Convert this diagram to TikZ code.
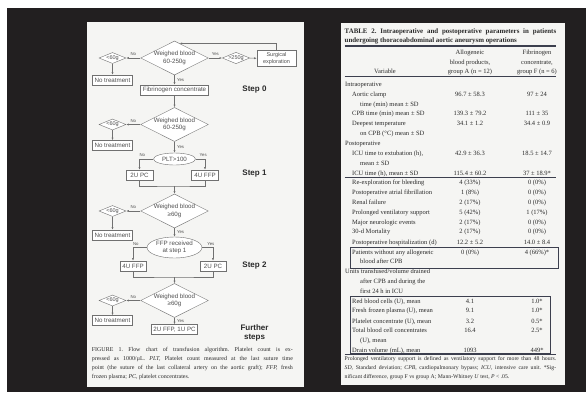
\documentclass[tikz,border=0pt]{standalone}
\usepackage{fontspec}
\setmainfont{Liberation Serif}
\setsansfont{Liberation Sans}
\usepackage{tikz}
\usetikzlibrary{arrows.meta,calc,shapes.geometric}
\frenchspacing

\definecolor{bgdark}{HTML}{221F20}
\definecolor{paper}{HTML}{F5F5F3}
\definecolor{flowline}{HTML}{707070}
\definecolor{flowtext}{HTML}{505050}
\definecolor{tabtext}{HTML}{2A2A2A}
\definecolor{tabline}{HTML}{3C3F4E}

\newcommand{\flowfont}{\sffamily\fontsize{6.2}{7.4}\selectfont}
\newcommand{\smallflow}{\sffamily\fontsize{5.5}{6.4}\selectfont}
\newcommand{\ynfont}{\sffamily\fontsize{4.3}{5}\selectfont}
\newcommand{\stepfont}{\sffamily\bfseries\fontsize{8}{9.2}\selectfont}
\newcommand{\tabfont}{\rmfamily\fontsize{6.5}{9.6}\selectfont}
\newcommand{\titlefont}{\rmfamily\bfseries\fontsize{6.9}{9}\selectfont}
\newcommand{\capfont}{\rmfamily\fontsize{5.95}{9.15}\selectfont}
\newcommand{\footfont}{\rmfamily\fontsize{5.75}{9.2}\selectfont}

\begin{document}
\begin{tikzpicture}[x=1pt,y=-1pt,
  every node/.style={inner sep=0pt},
  box/.style={draw=flowline,fill=white,font=\flowfont,text=flowtext,inner xsep=1.5pt,minimum height=10pt},
  test/.style={diamond,aspect=2,draw=flowline,fill=white,font=\flowfont,text=flowtext,align=center,minimum width=66pt,minimum height=34pt},
  limit/.style={diamond,aspect=2.4,draw=flowline,fill=white,font=\smallflow,text=flowtext,minimum width=27pt,minimum height=11pt},
  query/.style={ellipse,draw=flowline,fill=white,font=\flowfont,text=flowtext,align=center},
  yn/.style={font=\ynfont,text=flowtext,inner sep=0.8pt},
  flow/.style={draw=flowline,line width=0.5pt,-{Latex[length=2.6pt,width=2pt]}},
  tie/.style={draw=flowline,line width=0.5pt},
  steplabel/.style={font=\stepfont,text=tabtext,align=center},
  cell/.style={font=\tabfont,text=tabtext,anchor=base west},
  num/.style={font=\tabfont,text=tabtext,anchor=base}]
\useasboundingbox (0,0) rectangle (586,392);
\fill[white] (0,0) rectangle (586,392);
\fill[bgdark] (7,7.5) rectangle (586,392);
\fill[paper] (87,22) rectangle (304,387);
\fill[paper] (340.7,22.5) rectangle (565,385);

% Step 0
\node[test] (w0) at (174.5,58) {Weighed blood\\60-250g};
\node[limit] (lo0) at (112.5,58) {<60g};
\node[limit] (hi0) at (236,58) {>250g};
\node[box,minimum width=39pt,minimum height=16pt,align=center,font=\smallflow] (surg) at (276.5,58.5) {Surgical\\exploration};
\node[box,minimum width=40pt] (nt0) at (112.5,80) {No treatment};
\node[box,minimum width=68pt] (fib) at (174.5,90) {Fibrinogen concentrate};
\node[steplabel] (s0) at (254.5,90) {Step 0};
\draw[flow] (w0) -- node[yn,above=1pt] {No} (lo0);
\draw[flow] (lo0) -- (nt0);
\draw[flow] (w0) -- node[yn,above=1pt] {Yes} (hi0);
\draw[flow] (hi0) -- (surg);
\draw[flow] (surg.north) |- ($(w0.north)!0.15!(w0.east)$);
\draw[flow] (w0) -- node[yn,right=1.5pt] {Yes} (fib);

% Step 1
\node[test] (w1) at (174.5,124.5) {Weighed blood\\60-250g};
\node[limit] (lo1) at (112.5,124.5) {<60g};
\node[box,minimum width=40pt] (nt1) at (112.5,145.5) {No treatment};
\node[query,minimum width=42pt,minimum height=12pt] (plt) at (174.5,159) {PLT>100};
\node[box,minimum width=26.5pt] (pc1) at (139.5,175) {2U PC};
\node[box,minimum width=27pt] (ffp1) at (205,175) {4U FFP};
\node[steplabel] (s1) at (254.5,174) {Step 1};
\coordinate (j1) at (174.5,186);
\draw[flow] (fib) -- (w1);
\draw[flow] (w1) -- node[yn,above=1pt] {No} (lo1);
\draw[flow] (lo1) -- (nt1);
\draw[flow] (w1) -- node[yn,right=1.5pt] {Yes} (plt);
\draw[flow] (plt.west) -| node[yn,above=1pt,pos=0.4] {No} (pc1);
\draw[flow] (plt.east) -| node[yn,above=1pt,pos=0.4] {Yes} (ffp1);
\draw[tie] (pc1) |- (j1) -| (ffp1);

% Step 2
\node[test] (w2) at (174.5,211) {Weighed blood\\≥60g};
\node[limit] (lo2) at (112.5,211) {<60g};
\node[box,minimum width=40pt] (nt2) at (112.5,235) {No treatment};
\node[query,minimum width=55pt,minimum height=21pt] (ffpq) at (174.5,247.5) {FFP received\\at step 1};
\node[box,minimum width=26pt] (ffp2) at (133,266) {4U FFP};
\node[box,minimum width=26pt] (pc2) at (213,266) {2U PC};
\node[steplabel] (s2) at (254.5,265.5) {Step 2};
\coordinate (j2) at (174.5,277);
\draw[flow] (j1) -- (w2);
\draw[flow] (w2) -- node[yn,above=1pt] {No} (lo2);
\draw[flow] (lo2) -- (nt2);
\draw[flow] (w2) -- node[yn,right=1.5pt] {Yes} (ffpq);
\draw[flow] (ffpq.west) -| node[yn,above=1pt,pos=0.4] {No} (ffp2);
\draw[flow] (ffpq.east) -| node[yn,above=1pt,pos=0.4] {Yes} (pc2);
\draw[tie] (ffp2) |- (j2) -| (pc2);

% further steps
\node[test] (w3) at (174.5,300.5) {Weighed blood\\≥60g};
\node[limit] (lo3) at (112.5,300.5) {<60g};
\node[box,minimum width=40pt] (nt3) at (112.5,320.5) {No treatment};
\node[box,minimum width=46pt] (fin) at (174.5,329.5) {2U FFP, 1U PC};
\node[steplabel] (s3) at (254.5,333) {Further\\steps};
\draw[flow] (j2) -- (w3);
\draw[flow] (w3) -- node[yn,above=1pt] {No} (lo3);
\draw[flow] (lo3) -- (nt3);
\draw[flow] (w3) -- node[yn,right=1.5pt] {Yes} (fin);

\node[font=\capfont,text=tabtext,text width=201pt,align=justify,anchor=base west] (cap) at (91.7,351) {FIGURE 1. Flow chart of transfusion algorithm. Platelet count is ex-\linebreak pressed as 1000/µL. \textit{PLT,} Platelet count measured at the last suture time\linebreak point (the suture of the last collateral artery on the aortic graft); \textit{FFP,} fresh\linebreak frozen plasma; \textit{PC,} platelet concentrates.};

% table
\node[font=\titlefont,text=tabtext,text width=211.5pt,align=justify,anchor=base west] (title) at (344.5,33) {TABLE 2. Intraoperative and postoperative parameters in patients\linebreak undergoing thoracoabdominal aortic aneurysm operations};
\draw[tabline,line width=1.1pt] (344.5,46) -- (556,46);
\node[num] (hv) at (385,73.1) {Variable};
\node[num] (ha1) at (470,54.8) {Allogeneic};
\node[num] (ha2) at (470,64.1) {blood products,};
\node[num] (ha3) at (470,73.1) {group A (n = 12)};
\node[num] (hf1) at (537,54.8) {Fibrinogen};
\node[num] (hf2) at (537,64.1) {concentrate,};
\node[num] (hf3) at (537,73.1) {group F (n = 6)};
\draw[tabline,line width=0.7pt] (344.5,76.6) -- (556,76.6);
\foreach \yy/\xx/\lab [count=\i] in {
  84.3/345/Intraoperative,
  104.4/360/{time (min) mean ± SD},
  133.4/360/{on CPB (°C) mean ± SD},
  143.5/345/Postoperative,
  162.8/360/{mean ± SD},
  261.7/360/{blood after CPB},
  271.4/345/{Units transfused/volume drained},
  281.4/360/{after CPB and during the},
  290.8/360/{first 24 h in ICU},
  340.2/360/{(U), mean}}{
  \node[cell] (t\i) at (\xx,\yy+2.2) {\lab};
}
\foreach \yy/\lab/\va/\vb [count=\i] in {
  94.3/{Aortic clamp}/{96.7 ± 58.3}/{97 ± 24},
  113.7/{CPB time (min) mean ± SD}/{139.3 ± 79.2}/{111 ± 35},
  123.4/{Deepest temperature}/{34.1 ± 1.2}/{34.4 ± 0.9},
  153.5/{ICU time to extubation (h),}/{42.9 ± 36.3}/{18.5 ± 14.7},
  172.9/{ICU time (h), mean ± SD}/{115.4 ± 60.2}/{37 ± 18.9*},
  182.2/{Re-exploration for bleeding}/{4 (33\%)}/{0 (0\%)},
  192.2/{Postoperative atrial fibrillation}/{1 (8\%)}/{0 (0\%)},
  202/{Renal failure}/{2 (17\%)}/{0 (0\%)},
  212/{Prolonged ventilatory support}/{5 (42\%)}/{1 (17\%)},
  222/{Major neurologic events}/{2 (17\%)}/{0 (0\%)},
  231.7/{30-d Mortality}/{2 (17\%)}/{0 (0\%)},
  242/{Postoperative hospitalization (d)}/{12.2 ± 5.2}/{14.0 ± 8.4},
  252/{Patients without any allogeneic}/{0 (0\%)}/{4 (66\%)*},
  301/{Red blood cells (U), mean}/{4.1}/{1.0*},
  310.5/{Fresh frozen plasma (U), mean}/{9.1}/{1.0*},
  321/{Platelet concentrate (U), mean}/{3.2}/{0.5*},
  330.5/{Total blood cell concentrates}/{16.4}/{2.5*},
  350/{Drain volume (mL), mean}/{1093}/{449*}}{
  \node[cell] (v\i) at (352,\yy+2.2) {\lab};
  \node[num] (a\i) at (470,\yy+2.2) {\va};
  \node[num] (f\i) at (537,\yy+2.2) {\vb};
}
\draw[tabline,line width=0.4pt] (344.5,177.5) -- (556,177.5);
\draw[tabline,line width=0.6pt] (350,247.4) rectangle (558,268);
\draw[tabline,line width=0.6pt] (350,296.5) rectangle (550.5,352.8);
\draw[tabline,line width=0.9pt] (344.5,354.5) -- (556,354.5);
\node[font=\footfont,text=tabtext,text width=211.5pt,align=justify,anchor=base west] (foot) at (344.5,360.3) {Prolonged ventilatory support is defined as ventilatory support for more than 48 hours.\linebreak \textit{SD,} Standard deviation; \textit{CPB,} cardiopulmonary bypass; \textit{ICU,} intensive care unit. *Sig-\linebreak nificant difference, group F vs group A; Mann-Whitney \textit{U} test, \textit{P} < .05.};
\end{tikzpicture}
\end{document}
